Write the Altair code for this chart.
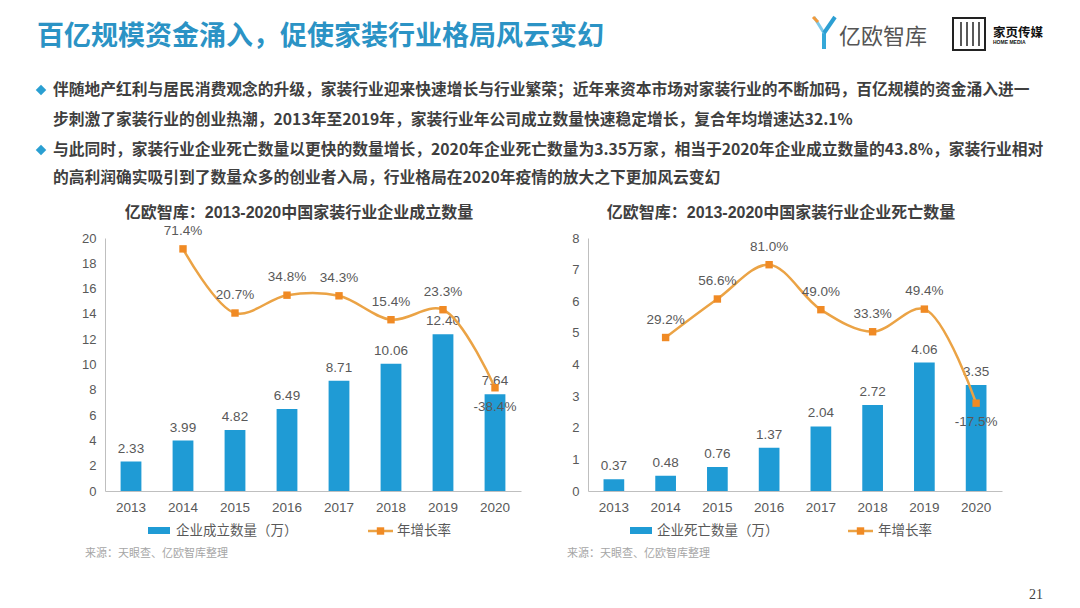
import altair as alt
import pandas as pd

# ---------------- data ----------------
years = ["2013", "2014", "2015", "2016", "2017", "2018", "2019", "2020"]
est_counts = [2.33, 3.99, 4.82, 6.49, 8.71, 10.06, 12.40, 7.64]
est_growth = [None, 71.4, 20.7, 34.8, 34.3, 15.4, 23.3, -38.4]
die_counts = [0.37, 0.48, 0.76, 1.37, 2.04, 2.72, 4.06, 3.35]
die_growth = [None, 29.2, 56.6, 81.0, 49.0, 33.3, 49.4, -17.5]
left_ticks = [0, 2, 4, 6, 8, 10, 12, 14, 16, 18, 20]
right_ticks = [0, 1, 2, 3, 4, 5, 6, 7, 8]

heading = "百亿规模资金涌入，促使家装行业格局风云变幻"
bullet_lines = [
    "伴随地产红利与居民消费观念的升级，家装行业迎来快速增长与行业繁荣；近年来资本市场对家装行业的不断加码，百亿规模的资金涌入进一",
    "步刺激了家装行业的创业热潮，2013年至2019年，家装行业年公司成立数量快速稳定增长，复合年均增速达32.1%",
    "与此同时，家装行业企业死亡数量以更快的数量增长，2020年企业死亡数量为3.35万家，相当于2020年企业成立数量的43.8%，家装行业相对",
    "的高利润确实吸引到了数量众多的创业者入局，行业格局在2020年疫情的放大之下更加风云变幻",
]
left_title = "亿欧智库：2013-2020中国家装行业企业成立数量"
right_title = "亿欧智库：2013-2020中国家装行业企业死亡数量"
left_bar_legend = "企业成立数量（万）"
right_bar_legend = "企业死亡数量（万）"
line_legend = "年增长率"
source_note = "来源：天眼查、亿欧智库整理"
page_no = "21"
logo1 = "亿欧智库"
logo2 = "家页传媒"
logo2_sub = "HOME MEDIA"

# ---------------- styles ----------------
BLUE = "#1f9bd5"
ORANGE_LINE = "#eba345"
ORANGE_PT = "#f08a24"
GRAY = "#595959"
DARK = "#3f3f3f"
TEAL = "#2b93c5"
FONT = "Liberation Sans, Noto Sans CJK SC, sans-serif"
CJK = "Noto Sans CJK SC, sans-serif"

dummy = pd.DataFrame({"d": [0]})


def T(s, x, y, size=13, color=GRAY, weight="normal", align="left", font=CJK, baseline="middle"):
    return alt.Chart(dummy).mark_text(
        text=s, fontSize=size, color=color, fontWeight=weight, align=align,
        baseline=baseline, font=font
    ).encode(x=alt.value(x), y=alt.value(y))


def R(x, x2, y, y2, color, **kw):
    return alt.Chart(dummy).mark_rect(color=color, **kw).encode(
        x=alt.value(x), x2=alt.value(x2), y=alt.value(y), y2=alt.value(y2))


def rule(x, x2, y, y2, color, width):
    return alt.Chart(dummy).mark_rule(color=color, strokeWidth=width).encode(
        x=alt.value(x), x2=alt.value(x2), y=alt.value(y), y2=alt.value(y2))


def sq(x, y):
    return alt.Chart(dummy).mark_square(size=55, color=ORANGE_PT, opacity=1).encode(
        x=alt.value(x), y=alt.value(y))


def panel(counts, growth, ymax, ticks, gdomain):
    df = pd.DataFrame({"year": years, "count": counts, "growth": growth})
    x = alt.X("year:N", title=None,
              scale=alt.Scale(paddingInner=0.6, paddingOuter=0.3),
              axis=alt.Axis(labelAngle=0, ticks=False, labelPadding=9, zindex=1,
                            labelFontSize=13.5, domainColor="#bfbfbf"))
    base = alt.Chart(df).encode(x=x)
    yscale = alt.Scale(domain=[0, ymax], nice=False)
    bars = base.mark_bar(color=BLUE).encode(
        y=alt.Y("count:Q", title=None, scale=yscale,
                axis=alt.Axis(values=ticks, ticks=False, grid=False, labelPadding=9, zindex=1,
                              labelFontSize=13, domainColor="#bfbfbf")))
    blab = base.transform_calculate(lab="format(datum.count, '.2f')").mark_text(
        dy=-13, fontSize=13.5, color=GRAY, font=FONT, baseline="middle"
    ).encode(y=alt.Y("count:Q", scale=yscale, axis=None), text="lab:N")
    gb = base.transform_filter("isValid(datum.growth)")
    gy = alt.Y("growth:Q", scale=alt.Scale(domain=gdomain, nice=False, zero=False), axis=None)
    line = gb.mark_line(color=ORANGE_LINE, strokeWidth=2.5, interpolate="catmull-rom").encode(y=gy)
    pts = gb.mark_square(size=55, color=ORANGE_PT, opacity=1).encode(y=gy)
    glab = gb.transform_calculate(
        lab="(datum.growth < 0 ? '-' : '') + format(abs(datum.growth), '.1f') + '%'")
    gup = glab.transform_filter("datum.growth >= 0").mark_text(
        dy=-18, fontSize=13.5, color=GRAY, font=FONT, baseline="middle"
    ).encode(y=gy, text="lab:N")
    gdn = glab.transform_filter("datum.growth < 0").mark_text(
        dy=19, fontSize=13.5, color=GRAY, font=FONT, baseline="middle"
    ).encode(y=gy, text="lab:N")
    return [bars, blab, line, pts, gup, gdn]


# ---------------- left panel (origin at page 105, 238) ----------------
left_layers = [R(-105, 975, -238, 370, "white", opacity=0)]
left_layers += panel(est_counts, est_growth, 20, left_ticks, [-120, 80])
left_layers += [
    # heading & bullets
    T(heading, -68, -201, size=27, color=TEAL, weight="bold"),
    alt.Chart(dummy).mark_point(shape="diamond", filled=True, size=110, color="#2a9fd2", opacity=1)
        .encode(x=alt.value(-64), y=alt.value(-148)),
    alt.Chart(dummy).mark_point(shape="diamond", filled=True, size=110, color="#2a9fd2", opacity=1)
        .encode(x=alt.value(-64), y=alt.value(-88)),
    T(bullet_lines[0], -52, -148, size=15.75, color=DARK, weight="bold"),
    T(bullet_lines[1], -52, -118, size=15.75, color=DARK, weight="bold"),
    T(bullet_lines[2], -52, -88, size=15.75, color=DARK, weight="bold"),
    T(bullet_lines[3], -52, -60, size=15.75, color=DARK, weight="bold"),
    # logo 1
    rule(719, 719, -206, -189, "#35a8d8", 4),
    rule(709, 719, -221, -205, "#7cc8e8", 3),
    rule(730, 719, -221, -205, "#2c9fd3", 4),
    rule(708, 713, -221, -216, "#f39a3a", 3),
    T(logo1, 734, -201, size=22, color="#555555"),
    # logo 2
    alt.Chart(dummy).mark_rect(fill="white", stroke="#222222", strokeWidth=2).encode(
        x=alt.value(848), x2=alt.value(880), y=alt.value(-220), y2=alt.value(-188)),
    rule(856, 856, -216, -192, "#222222", 1.5),
    rule(862, 862, -216, -192, "#222222", 1.5),
    rule(868, 868, -216, -192, "#222222", 1.5),
    rule(874, 874, -216, -192, "#222222", 1.5),
    T(logo2, 888, -205, size=12.5, color="#111111", weight="bold"),
    T(logo2_sub, 888, -196, size=5, color="#111111", weight="bold", font=FONT),
    # chart title, legend, source
    T(left_title, 194, -25, size=16, color=DARK, weight="bold", align="center", font=FONT),
    R(43, 65, 289, 296, BLUE),
    T(left_bar_legend, 71, 293, size=13.5),
    rule(263, 288, 293, 293, ORANGE_LINE, 2.5),
    sq(275.5, 293),
    T(line_legend, 292, 293, size=13.5),
    T(source_note, -20, 316, size=11, color="#a6a6a6"),
]
left = alt.layer(*left_layers).resolve_scale(y="independent").properties(width=416, height=253)

# ---------------- right panel (origin at page 588, 238) ----------------
right_layers = panel(die_counts, die_growth, 8, right_ticks, [-80, 100])
right_layers += [
    T(right_title, 193, -25, size=16, color=DARK, weight="bold", align="center", font=FONT),
    R(42, 64, 289, 296, BLUE),
    T(right_bar_legend, 69, 293, size=13.5),
    rule(260, 285, 293, 293, ORANGE_LINE, 2.5),
    sq(272.5, 293),
    T(line_legend, 290, 293, size=13.5),
    T(source_note, -21, 316, size=11, color="#a6a6a6"),
    T(page_no, 455, 357, size=14, color=DARK, align="right", font="Liberation Serif, serif"),
]
right = alt.layer(*right_layers).resolve_scale(y="independent").properties(width=414, height=253)

chart = alt.hconcat(left, right, spacing=67, bounds="flush").properties(
    padding=0, background="white"
).configure_view(stroke=None).configure_axis(
    labelColor=GRAY, labelFont=FONT, grid=False
)

chart.save("out.html", embed_options={"renderer": "svg", "actions": False})
